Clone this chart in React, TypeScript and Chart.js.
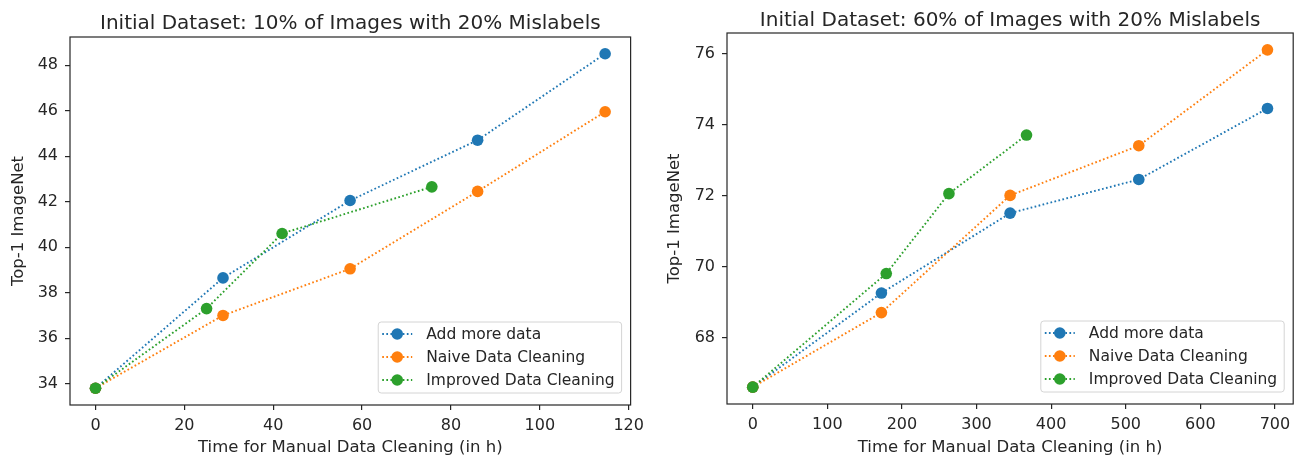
import React, { useEffect, useRef } from 'react';
import { Chart, registerables } from 'chart.js';

Chart.register(...registerables);

const FONT = "'DejaVu Sans', 'Liberation Sans', sans-serif";
const TEXT = '#262626';
const SPINE = '#262626';

const seriesLabels = ['Add more data', 'Naive Data Cleaning', 'Improved Data Cleaning'];
const seriesColors = ['#1f77b4', '#ff7f0e', '#2ca02c'];

const xAxisLabel = 'Time for Manual Data Cleaning (in h)';
const yAxisLabel = 'Top-1 ImageNet';

// Left panel
const leftTitle = 'Initial Dataset: 10% of Images with 20% Mislabels';
const leftAddX = [0, 28.7, 57.3, 86, 114.7];
const leftAddY = [33.8, 38.65, 42.05, 44.7, 48.5];
const leftNaiveX = [0, 28.7, 57.3, 86, 114.7];
const leftNaiveY = [33.8, 37.0, 39.05, 42.45, 45.95];
const leftImprovedX = [0, 25, 42, 75.7];
const leftImprovedY = [33.8, 37.3, 40.6, 42.65];
const leftXTicks = [0, 20, 40, 60, 80, 100, 120];
const leftYTicks = [34, 36, 38, 40, 42, 44, 46, 48];

// Right panel
const rightTitle = 'Initial Dataset: 60% of Images with 20% Mislabels';
const rightAddX = [0, 172.5, 345, 517.5, 690];
const rightAddY = [66.6, 69.25, 71.5, 72.45, 74.45];
const rightNaiveX = [0, 172.5, 345, 517.5, 690];
const rightNaiveY = [66.6, 68.7, 72.0, 73.4, 76.1];
const rightImprovedX = [0, 179, 263, 367];
const rightImprovedY = [66.6, 69.8, 72.05, 73.7];
const rightXTicks = [0, 100, 200, 300, 400, 500, 600, 700];
const rightYTicks = [68, 70, 72, 74, 76];

function withMargin(arrs: number[][]) {
  const all = arrs.flat();
  const mn = Math.min(...all);
  const mx = Math.max(...all);
  const m = (mx - mn) * 0.05;
  return { min: mn - m, max: mx + m };
}

const axesBoxPlugin = {
  id: 'axesBox',
  afterDatasetsDraw(chart: any) {
    const { ctx, chartArea: a } = chart;
    ctx.save();
    ctx.strokeStyle = SPINE;
    ctx.lineWidth = 1.2;
    ctx.strokeRect(a.left, a.top, a.right - a.left, a.bottom - a.top);
    ctx.restore();
  },
};

const axTitlePlugin = {
  id: 'axTitle',
  afterDraw(chart: any, _args: any, opts: any) {
    const { ctx, chartArea: a } = chart;
    ctx.save();
    ctx.font = `${opts.size}px ${FONT}`;
    ctx.fillStyle = TEXT;
    ctx.textAlign = 'center';
    ctx.textBaseline = 'alphabetic';
    ctx.fillText(opts.text, (a.left + a.right) / 2, opts.y);
    ctx.restore();
  },
};

const mplLegendPlugin = {
  id: 'mplLegend',
  afterDraw(chart: any, _args: any, opts: any) {
    const { ctx, chartArea: a } = chart;
    const ds = chart.data.datasets;
    ctx.save();
    ctx.font = `${opts.size}px ${FONT}`;
    const textW = Math.max(...ds.map((d: any) => ctx.measureText(d.label).width));
    const rowH = opts.rowH;
    const w = 4 + 30 + 14 + textW + 7;
    const h = 12 + rowH * (ds.length - 1) + 13;
    const x0 = a.right - opts.right - w;
    const y0 = a.bottom - opts.bottom - h;
    ctx.beginPath();
    ctx.roundRect(x0, y0, w, h, 3);
    ctx.fillStyle = 'rgba(255,255,255,0.85)';
    ctx.fill();
    ctx.strokeStyle = '#d4d4d4';
    ctx.lineWidth = 1;
    ctx.stroke();
    ds.forEach((d: any, i: number) => {
      const cy = y0 + 12 + i * rowH;
      ctx.save();
      ctx.strokeStyle = d.borderColor;
      ctx.lineWidth = d.borderWidth;
      ctx.setLineDash(d.borderDash);
      ctx.beginPath();
      ctx.moveTo(x0 + 4, cy);
      ctx.lineTo(x0 + 34, cy);
      ctx.stroke();
      ctx.restore();
      ctx.beginPath();
      ctx.arc(x0 + 19, cy, d.pointRadius, 0, Math.PI * 2);
      ctx.fillStyle = d.borderColor;
      ctx.fill();
      ctx.fillStyle = TEXT;
      ctx.textAlign = 'left';
      ctx.textBaseline = 'middle';
      ctx.fillText(d.label, x0 + 48, cy + 1);
    });
    ctx.restore();
  },
};

type PanelCfg = {
  left: number;
  width: number;
  title: string;
  titleY: number;
  xs: number[][];
  ys: number[][];
  xTicks: number[];
  yTicks: number[];
  yAxisWidth: number;
  xAxisHeight: number;
  padTop: number;
  padRight: number;
  yTitlePad: number;
};

function Panel({ cfg }: { cfg: PanelCfg }) {
  const ref = useRef<HTMLCanvasElement>(null);
  useEffect(() => {
    const xl = withMargin(cfg.xs);
    const yl = withMargin(cfg.ys);
    const tickFont = { family: FONT, size: 16 };
    const labelFont = { family: FONT, size: 16.5 };
    const grid = {
      display: true,
      drawOnChartArea: false,
      drawTicks: true,
      tickLength: 5,
      color: SPINE,
      lineWidth: 1.2,
    };
    const chart = new Chart(ref.current as HTMLCanvasElement, {
      type: 'line',
      data: {
        datasets: seriesLabels.map((label, i) => ({
          label,
          data: cfg.xs[i].map((x, j) => ({ x, y: cfg.ys[i][j] })),
          borderColor: seriesColors[i],
          backgroundColor: seriesColors[i],
          pointBackgroundColor: seriesColors[i],
          borderWidth: 1.9,
          borderDash: [1.7, 2.4],
          pointRadius: 5.8,
          pointHoverRadius: 5.8,
          pointBorderWidth: 0,
          tension: 0,
          fill: false,
          order: 2 - i,
        })),
      },
      options: {
        responsive: false,
        animation: false,
        devicePixelRatio: 1,
        layout: { padding: { top: cfg.padTop, right: cfg.padRight, left: 0, bottom: 0 } },
        plugins: {
          legend: { display: false },
          title: { display: false },
          tooltip: { enabled: false },
          axTitle: { text: cfg.title, y: cfg.titleY, size: 20 },
          mplLegend: { size: 15.5, rowH: 23, right: 9, bottom: 12 },
        } as any,
        scales: {
          x: {
            type: 'linear',
            min: xl.min,
            max: xl.max,
            afterBuildTicks: (s: any) => {
              s.ticks = cfg.xTicks.map((v) => ({ value: v }));
            },
            afterFit: (s: any) => {
              s.height = cfg.xAxisHeight;
            },
            ticks: {
              font: tickFont,
              color: TEXT,
              padding: 6,
              maxRotation: 0,
              autoSkip: false,
              callback: (v: any) => String(v),
            },
            title: {
              display: true,
              text: xAxisLabel,
              font: labelFont,
              color: TEXT,
              padding: { top: 0, bottom: 0 },
            },
            grid,
            border: { display: false },
          },
          y: {
            type: 'linear',
            min: yl.min,
            max: yl.max,
            afterBuildTicks: (s: any) => {
              s.ticks = cfg.yTicks.map((v) => ({ value: v }));
            },
            afterFit: (s: any) => {
              s.width = cfg.yAxisWidth;
            },
            ticks: {
              font: tickFont,
              color: TEXT,
              padding: 7,
              autoSkip: false,
              callback: (v: any) => String(v),
            },
            title: {
              display: true,
              text: yAxisLabel,
              font: labelFont,
              color: TEXT,
              padding: { top: cfg.yTitlePad, bottom: 0 },
            },
            grid,
            border: { display: false },
          },
        },
      },
      plugins: [axesBoxPlugin, axTitlePlugin, mplLegendPlugin],
    });
    return () => chart.destroy();
  }, []);
  return (
    <canvas
      ref={ref}
      width={cfg.width}
      height={458}
      style={{ position: 'absolute', left: cfg.left, top: 0, width: cfg.width, height: 458 }}
    />
  );
}

const leftCfg: PanelCfg = {
  left: 0,
  width: 650,
  title: leftTitle,
  titleY: 29,
  xs: [leftAddX, leftNaiveX, leftImprovedX],
  ys: [leftAddY, leftNaiveY, leftImprovedY],
  xTicks: leftXTicks,
  yTicks: leftYTicks,
  yAxisWidth: 70,
  xAxisHeight: 53,
  padTop: 37,
  padRight: 14,
  yTitlePad: 9,
};

const rightCfg: PanelCfg = {
  left: 650,
  width: 649,
  title: rightTitle,
  titleY: 26,
  xs: [rightAddX, rightNaiveX, rightImprovedX],
  ys: [rightAddY, rightNaiveY, rightImprovedY],
  xTicks: rightXTicks,
  yTicks: rightYTicks,
  yAxisWidth: 77,
  xAxisHeight: 54,
  padTop: 33,
  padRight: 2,
  yTitlePad: 15,
};

export default function App() {
  return (
    <div style={{ position: 'absolute', left: 0, top: 0, width: 1299, height: 458, background: '#fff', overflow: 'hidden' }}>
      <Panel cfg={leftCfg} />
      <Panel cfg={rightCfg} />
    </div>
  );
}
